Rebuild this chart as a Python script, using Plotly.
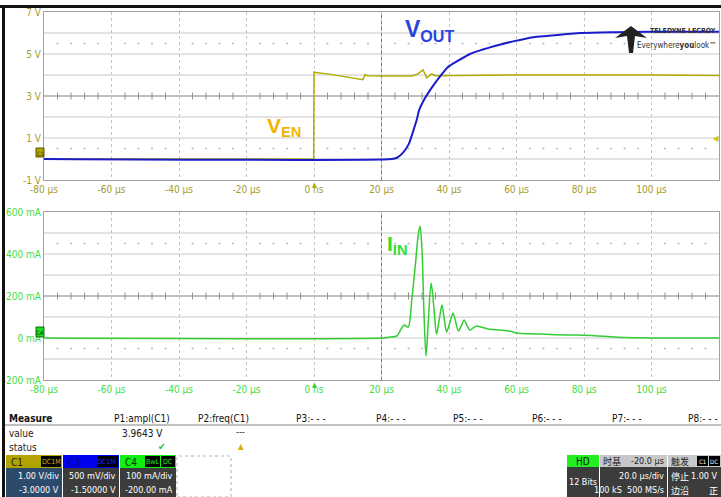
import plotly.graph_objects as go

# VEN (C1), volts
t_en = [-80, -0.1, 0, 0.5, 5, 10, 14.5, 15.1, 16, 20, 25, 29, 30.5, 32.3, 33.4, 34.9, 36, 40, 60, 100, 120]
v_en = [0.0, 0.0, 4.14, 4.12, 4.03, 3.9, 3.78, 4.0, 3.96, 3.95, 3.95, 3.95, 4.02, 4.24, 3.86, 4.05, 3.97, 3.98, 4.0, 4.0, 3.98]

# VOUT (C3), volts
t_out = [-80, 23, 24.6, 26.4, 28.1, 29.3, 30.5, 31.1, 32.9, 34.9, 36.9, 39.7, 42.7, 46.2, 49, 55, 59, 65, 69, 79, 89, 100, 120]
v_out = [0, 0, 0.03, 0.15, 0.36, 0.64, 0.95, 1.15, 1.45, 1.70, 1.92, 2.19, 2.34, 2.50, 2.58, 2.72, 2.80, 2.90, 2.93, 3.00, 3.02, 3.03, 3.03]

# IIN (C4), mA
t_in = [-80, 20, 22, 24.6, 25.7, 26.7, 27.9, 29, 30, 30.8, 31.4, 32, 32.6, 33.2, 33.8, 34.7, 35.5, 36.3, 37.1, 37.9, 38.6,
        39.3, 40.2, 41.2, 42, 42.8, 43.7, 44.5, 45.3, 46.2, 47.2, 48.2, 50, 52, 55, 58, 60, 64, 67, 72, 78, 84, 88, 92, 100, 120]
i_in = [0, 0, 4, 10, 40, 62, 52, 186, 343, 480, 533, 420, 110, -86, 60, 262, 150, 19, 85, 157, 90,
        29, 70, 119, 75, 33, 60, 86, 60, 38, 48, 57, 50, 42, 38, 33, 24, 20, 19, 15, 14, 10, 6, 2, 0, 0]

x_ticks = [-80, -60, -40, -20, 0, 20, 40, 60, 80, 100, 120]
x_labels = ["-80 µs", "-60 µs", "-40 µs", "-20 µs", "0 ns", "20 µs", "40 µs", "60 µs", "80 µs", "100 µs", "120 µs"]
v_ticks = [-1, 1, 3, 5, 7]
v_labels = ["-1 V", "1 V", "3 V", "5 V", "7 V"]
i_ticks = [-200, 0, 200, 400, 600]
i_labels = ["-200 mA", "0 mA", "200 mA", "400 mA", "600 mA"]

W, H = 721, 497
FONT = "Liberation Sans Narrow, DejaVu Sans Condensed, Roboto Condensed, Liberation Sans, Arial, sans-serif"
OLIVE = "#a39b2c"
YEL = "#b3ab00"
BLUE = "#1c1ccc"
GREEN = "#33cc33"


def px(x):
    return x / W


def py(y):
    return 1 - y / H


fig = go.Figure()

# decoration: minor ticks on centre line and dot rows
minor = [t for t in range(-80, 121, 4) if t % 20 != 0]
fig.add_trace(go.Scatter(x=minor, y=[3] * len(minor), mode="markers", xaxis="x", yaxis="y",
                         marker=dict(symbol="line-ns", size=5, line=dict(color="#909090", width=1)),
                         hoverinfo="skip", showlegend=False))
fig.add_trace(go.Scatter(x=minor * 2, y=[5.5] * len(minor) + [0.5] * len(minor), mode="markers", xaxis="x", yaxis="y",
                         marker=dict(symbol="circle", size=2, color="#b8b8b8"), hoverinfo="skip", showlegend=False))
fig.add_trace(go.Scatter(x=minor, y=[200] * len(minor), mode="markers", xaxis="x2", yaxis="y3",
                         marker=dict(symbol="line-ns", size=5, line=dict(color="#909090", width=1)),
                         hoverinfo="skip", showlegend=False))
fig.add_trace(go.Scatter(x=minor * 2, y=[450] * len(minor) + [-50] * len(minor), mode="markers", xaxis="x2", yaxis="y3",
                         marker=dict(symbol="circle", size=2, color="#b8b8b8"), hoverinfo="skip", showlegend=False))

# signals
fig.add_trace(go.Scatter(x=t_out, y=v_out, mode="lines", xaxis="x", yaxis="y2",
                         line=dict(color=BLUE, width=2, shape="spline", smoothing=0.6), showlegend=False))
fig.add_trace(go.Scatter(x=t_en, y=v_en, mode="lines", xaxis="x", yaxis="y",
                         line=dict(color=YEL, width=1.5), showlegend=False))
fig.add_trace(go.Scatter(x=t_in, y=i_in, mode="lines", xaxis="x2", yaxis="y3",
                         line=dict(color=GREEN, width=1.5, shape="spline", smoothing=0.8), showlegend=False))

xdom = [px(44), px(719)]
ax_common = dict(range=[-80, 120], tickvals=x_ticks, ticktext=x_labels, showgrid=True,
                 gridcolor="#c4c4c4", griddash="dot", zeroline=False, showline=True, linecolor="#a0a0a0",
                 mirror=True, ticks="", fixedrange=True, automargin=False)
fig.update_layout(
    width=W, height=H, margin=dict(l=0, r=0, t=0, b=0),
    paper_bgcolor="white", plot_bgcolor="white",
    font=dict(family=FONT, size=10),
    xaxis=dict(domain=xdom, anchor="y", tickfont=dict(color=OLIVE, size=10), **ax_common),
    xaxis2=dict(domain=xdom, anchor="y3", tickfont=dict(color="#44dd44", size=10), **ax_common),
    yaxis=dict(domain=[py(180), py(12)], range=[-1, 7], tickvals=v_ticks, ticktext=v_labels,
               showgrid=False, zeroline=False, showline=True, linecolor="#a0a0a0", automargin=False,
               mirror=True, ticks="", tickfont=dict(color=OLIVE, size=10), fixedrange=True),
    yaxis2=dict(overlaying="y", range=[-0.5, 3.5], visible=False, fixedrange=True),
    yaxis3=dict(domain=[py(380), py(212)], range=[-200, 600], tickvals=i_ticks, ticktext=i_labels,
                showgrid=False, zeroline=False, showline=True, linecolor="#a0a0a0", automargin=False,
                mirror=True, ticks="", tickfont=dict(color="#44dd44", size=10), fixedrange=True),
)

shapes = []
# horizontal grid lines (every division)
for v in range(0, 7):
    shapes.append(dict(type="line", xref="x domain", yref="y", x0=0, x1=1, y0=v, y1=v,
                       line=dict(color="#808080" if v == 3 else "#c8c8c8", width=1), layer="below"))
for v in range(-100, 600, 100):
    shapes.append(dict(type="line", xref="x2 domain", yref="y3", x0=0, x1=1, y0=v, y1=v,
                       line=dict(color="#808080" if v == 200 else "#c8c8c8", width=1), layer="below"))
# vertical centre lines
shapes.append(dict(type="line", xref="x", yref="y domain", x0=20, x1=20, y0=0, y1=1,
                   line=dict(color="#808080", width=1), layer="below"))
shapes.append(dict(type="line", xref="x2", yref="y3 domain", x0=20, x1=20, y0=0, y1=1,
                   line=dict(color="#808080", width=1), layer="below"))


def rect(x0, y0, x1, y1, fill, line=None, dash=None):
    ln = dict(color=line, width=1, dash=dash) if line else dict(width=0)
    shapes.append(dict(type="rect", xref="paper", yref="paper", x0=px(x0), x1=px(x1), y0=py(y1), y1=py(y0),
                       fillcolor=fill, line=ln))


def hline(x0, x1, y, color, width):
    shapes.append(dict(type="line", xref="paper", yref="paper", x0=px(x0), x1=px(x1), y0=py(y), y1=py(y),
                       line=dict(color=color, width=width)))


# frame
hline(0, W, 6.5, "#111111", 3)
shapes.append(dict(type="line", xref="paper", yref="paper", x0=px(3.5), x1=px(3.5), y0=0, y1=py(5),
                   line=dict(color="#111111", width=3)))
# measure header line
hline(5, W, 425, "#c0c0c0", 2)
# channel markers
rect(36, 148, 44, 157, "#b5a800", "#5a5000")
rect(36, 327, 44, 337, "#22dd22", "#0a6a0a")
# channel boxes
rect(6, 455, 62, 468, "#b3a300")
rect(6, 468, 62, 497, "#2c4a6b")
rect(63, 455, 119, 468, "#0000f0")
rect(63, 468, 119, 497, "#3c3c3c")
rect(120, 455, 176, 468, "#11ee11")
rect(120, 468, 176, 497, "#3c3c3c")
rect(177, 456, 231, 497, "rgba(0,0,0,0)", "#b0b0b0", "dot")
rect(41, 456, 61, 467, "black")
rect(97, 456, 118, 467, "black")
rect(145, 456, 160, 467, "black")
rect(161, 456, 175, 467, "black")
rect(567, 455, 599, 467, "#22ee22")
rect(567, 467, 599, 497, "#3c3c3c")
rect(600, 455, 667, 467, "#c8c8c8")
rect(600, 467, 667, 497, "#3c3c3c")
rect(668, 455, 721, 467, "#c8c8c8")
rect(668, 467, 721, 497, "#3c3c3c")
rect(697, 456, 708, 466, "black")
rect(709, 456, 720, 466, "black")
# logo glyph
shapes.append(dict(type="path", xref="paper", yref="paper", fillcolor="#222222", line=dict(width=0),
                   path="M {} {} L {} {} L {} {} L {} {} L {} {} L {} {} L {} {} Z".format(
                       px(615), py(38), px(631), py(26), px(647), py(38), px(635), py(36),
                       px(633), py(53), px(629), py(53), px(627), py(36))))
fig.update_layout(shapes=shapes)

ann = []


def txt(x, y, s, size=10, color="#222222", anchor="left", bold=False, fam=FONT):
    ann.append(dict(x=px(x), y=py(y), xref="paper", yref="paper", text="<b>%s</b>" % s if bold else s,
                    showarrow=False, xanchor=anchor, yanchor="middle",
                    font=dict(size=size, color=color, family=fam)))


txt(403, 31, "V<sub>OUT</sub>", 23, "#2a44dd", bold=True, fam="Liberation Sans, Arial")
txt(265, 127, "V<sub>EN</sub>", 21, "#f2b400", bold=True, fam="Liberation Sans, Arial")
txt(385, 245, "I<sub>IN</sub>", 21, "#33dd33", bold=True, fam="Liberation Sans, Arial")

txt(718, 31, "TELEDYNE LECROY", 7, "#333333", "right", bold=True)
txt(718, 45, "Everywhere<b>you</b>look™", 8, "#333333", "right")

txt(40, 153, "C1", 6, "#333300", "center")
txt(40, 332, "C4", 6, "#003300", "center")
txt(314, 185, "▲", 7, YEL, "center")
txt(314, 385, "▲", 7, GREEN, "center")
txt(721, 139, "◀", 8, "#d8c800", "right")

# measure table
txt(7, 418, "Measure", 10, "#111111", bold=True)
for x, s in [(142, "P1:ampl(C1)"), (224, "P2:freq(C1)"), (311, "P3:- - -"), (391, "P4:- - -"),
             (468, "P5:- - -"), (547, "P6:- - -"), (627, "P7:- - -")]:
    txt(x, 418, s, 10, "#111111", "center")
txt(720, 418, "P8:- - -", 10, "#111111", "right")
txt(7, 433, "value", 10)
txt(165, 433, "3.9643 V", 10, "#111111", "right")
txt(240, 432, "---", 9, "#111111", "center")
txt(7, 447, "status", 10)
txt(162, 446, "✔", 10, "#33bb33", "center")
txt(241, 446, "▲", 8, "#d8b000", "center")

# channel descriptors
txt(9, 462, "C1", 10, "#222200")
txt(51, 462, "DC1M", 7, "#c8b800", "center")
txt(61, 476, "1.00 V/div", 9, "white", "right")
txt(61, 490, "-3.0000 V", 9, "white", "right")
txt(66, 462, "C3", 10, "#000088")
txt(107, 462, "DC1M", 7, "#2020ff", "center")
txt(118, 476, "500 mV/div", 9, "white", "right")
txt(118, 490, "-1.50000 V", 9, "white", "right")
txt(123, 462, "C4", 10, "#003300")
txt(152, 462, "BwL", 7, "#22ee22", "center")
txt(168, 462, "DC", 7, "#22ee22", "center")
txt(175, 476, "100 mA/div", 9, "white", "right")
txt(175, 490, "-200.00 mA", 9, "white", "right")

txt(583, 461, "HD", 10, "#111111", "center")
txt(583, 482, "12 Bits", 9, "white", "center")
txt(601, 461, "时基", 9, "#222222", fam="Noto Sans CJK SC")
txt(666, 461, "-20.0 µs", 9, "#222222", "right")
txt(666, 476, "20.0 µs/div", 9, "white", "right")
txt(666, 490, "100 kS  500 MS/s", 9, "white", "right")
txt(669, 461, "触发", 9, "#222222", fam="Noto Sans CJK SC")
txt(702, 461, "C1", 6, "white", "center")
txt(714, 461, "DC", 6, "white", "center")
txt(669, 476, "停止", 9, "white", fam="Noto Sans CJK SC")
txt(720, 476, "1.00 V", 9, "white", "right")
txt(669, 490, "边沿", 9, "white", fam="Noto Sans CJK SC")
txt(720, 490, "正", 9, "white", "right", fam="Noto Sans CJK SC")

fig.update_layout(annotations=ann)

fig.write_html("out.html", config={"displayModeBar": False},
               post_script="document.body.style.margin='0';document.body.style.overflow='hidden';")
